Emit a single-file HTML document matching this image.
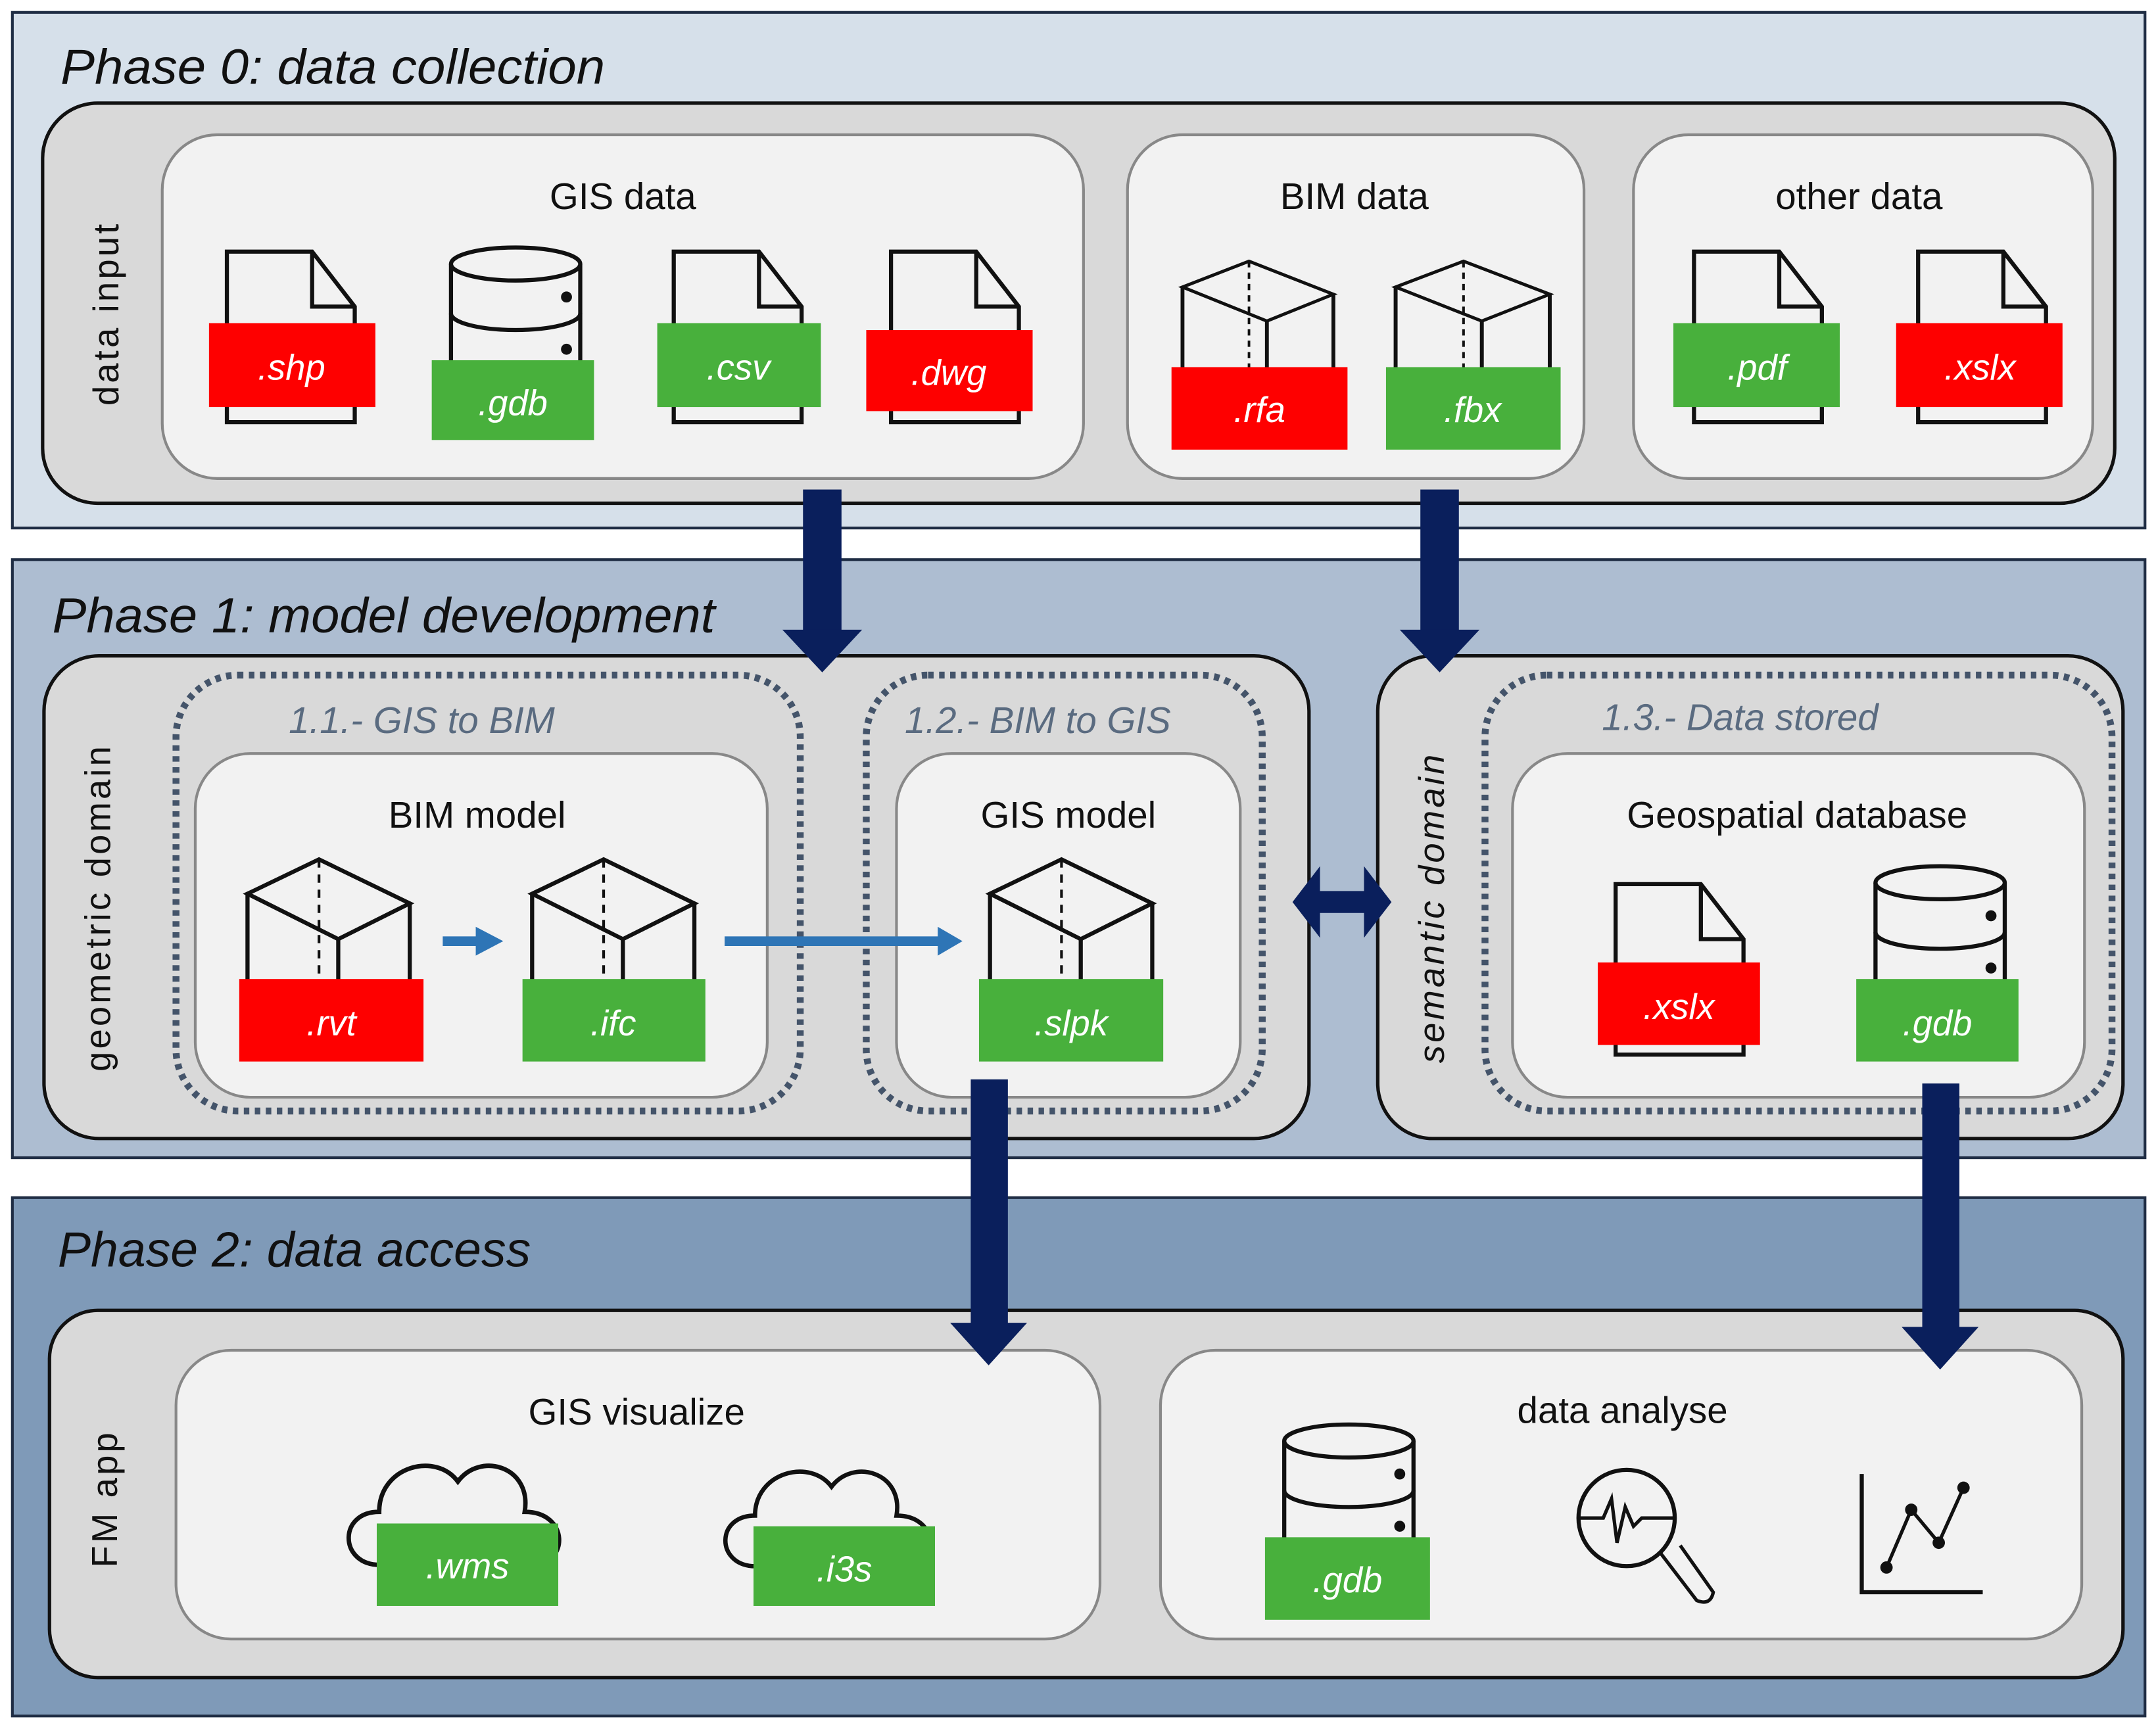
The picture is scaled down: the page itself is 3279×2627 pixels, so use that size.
<!DOCTYPE html>
<html><head><meta charset="utf-8"><style>
html,body{margin:0;padding:0;background:#fff}
svg{display:block}
text{font-family:"Liberation Sans",sans-serif}
.t{font-size:27px;fill:#111;text-anchor:middle}
.ph{font-size:36px;font-style:italic;fill:#111}
.lb{font-size:26px;font-style:italic;fill:#fff;text-anchor:middle}
.sub{font-size:27px;font-style:italic;fill:#5a6b80}
.rot{font-size:26px;fill:#111;text-anchor:middle;letter-spacing:2px}
</style></head><body>
<svg width="3279" height="2627" viewBox="0 0 1568 1256" preserveAspectRatio="none" xmlns="http://www.w3.org/2000/svg">
<defs>
<g id="doc" fill="#f2f2f2" stroke="#111" stroke-width="3">
<path d="M0,0 H62 L93,40 V124 H0 Z"/><path d="M62,0 V40 H93" fill="none"/>
</g>
<g id="cyl" fill="#f2f2f2" stroke="#111" stroke-width="3">
<path d="M0,12 V120 H94 V12"/>
<ellipse cx="47" cy="12" rx="47" ry="12"/>
<path d="M0,48 A47,12 0 0 0 94,48" fill="none"/>
<circle cx="84" cy="36" r="2.5" fill="#111"/><circle cx="84" cy="74" r="2.5" fill="#111"/>
</g>
<g id="cube" fill="none" stroke="#111" stroke-width="3">
<path d="M0,25 L52,0 L118,32 L66,58 Z"/>
<path d="M0,25 V135 M66,58 V135 M118,32 V135"/>
<path d="M52,0 V135" stroke-dasharray="6,5" stroke-width="2"/>
</g>
<g id="cloud" fill="#f2f2f2" stroke="#111" stroke-width="3">
<path d="M20,80 C-5,78 -5,45 22,45 C22,15 60,5 75,25 C90,5 125,15 120,45 C150,45 150,80 125,80 Z"/>
</g>
</defs>

<rect x="9" y="9" width="1551" height="375" fill="#d6e0ea" stroke="#1f2d44" stroke-width="2"/>
<rect x="9" y="407" width="1551" height="435" fill="#adbdd1" stroke="#1f2d44" stroke-width="2"/>
<rect x="9" y="871" width="1551" height="377" fill="#7f9ab8" stroke="#1f2d44" stroke-width="2"/>

<text class="ph" x="44" y="61" textLength="396" lengthAdjust="spacingAndGlyphs">Phase 0: data collection</text>
<text class="ph" x="38" y="460" textLength="482" lengthAdjust="spacingAndGlyphs">Phase 1: model development</text>
<text class="ph" x="42" y="921" textLength="344" lengthAdjust="spacingAndGlyphs">Phase 2: data access</text>

<rect x="31" y="75" width="1507" height="291" rx="40" fill="#d9d9d9" stroke="#111" stroke-width="2.5"/>
<text class="rot" transform="translate(86,228) rotate(-90)">data input</text>

<rect x="118" y="98" width="670" height="250" rx="40" fill="#f2f2f2" stroke="#888" stroke-width="2"/>
<text class="t" x="453" y="152">GIS data</text>
<use href="#doc" x="165" y="183"/>
<rect x="152" y="235" width="121" height="61" fill="#fe0000"/><text class="lb" x="212" y="276">.shp</text>
<use href="#cyl" x="328" y="180"/>
<rect x="314" y="262" width="118" height="58" fill="#48b03c"/><text class="lb" x="373" y="302">.gdb</text>
<use href="#doc" x="490" y="183"/>
<rect x="478" y="235" width="119" height="61" fill="#48b03c"/><text class="lb" x="537" y="276">.csv</text>
<use href="#doc" x="648" y="183"/>
<rect x="630" y="240" width="121" height="59" fill="#fe0000"/><text class="lb" x="690" y="280">.dwg</text>

<rect x="820" y="98" width="332" height="250" rx="40" fill="#f2f2f2" stroke="#888" stroke-width="2"/>
<text class="t" x="985" y="152">BIM data</text>
<g transform="translate(860,190) scale(0.93,0.75)"><use href="#cube"/></g>
<g transform="translate(1015,190) scale(0.95,0.75)"><use href="#cube"/></g>
<rect x="852" y="267" width="128" height="60" fill="#fe0000"/><text class="lb" x="916" y="307">.rfa</text>
<rect x="1008" y="267" width="127" height="60" fill="#48b03c"/><text class="lb" x="1071" y="307">.fbx</text>

<rect x="1188" y="98" width="334" height="250" rx="40" fill="#f2f2f2" stroke="#888" stroke-width="2"/>
<text class="t" x="1352" y="152">other data</text>
<use href="#doc" x="1232" y="183"/>
<rect x="1217" y="235" width="121" height="61" fill="#48b03c"/><text class="lb" x="1278" y="276">.pdf</text>
<use href="#doc" x="1395" y="183"/>
<rect x="1379" y="235" width="121" height="61" fill="#fe0000"/><text class="lb" x="1440" y="276">.xslx</text>

<rect x="32" y="477" width="920" height="351" rx="40" fill="#d9d9d9" stroke="#111" stroke-width="2.5"/>
<text class="rot" transform="translate(80,660) rotate(-90)">geometric domain</text>
<rect x="1002" y="477" width="542" height="351" rx="40" fill="#d9d9d9" stroke="#111" stroke-width="2.5"/>
<text class="rot" transform="translate(1050,660) rotate(-90)" font-style="italic">semantic domain</text>

<g fill="none" stroke="#44546a" stroke-width="5" stroke-dasharray="4,4">
<rect x="128" y="491" width="454" height="317" rx="45"/>
<rect x="630" y="491" width="288" height="317" rx="45"/>
<rect x="1080" y="491" width="456" height="317" rx="45"/>
</g>
<text class="sub" x="210" y="533">1.1.- GIS to BIM</text>
<text class="sub" x="658" y="533">1.2.- BIM to GIS</text>
<text class="sub" x="1165" y="531">1.3.- Data stored</text>

<rect x="142" y="548" width="416" height="250" rx="40" fill="#f2f2f2" stroke="#888" stroke-width="2"/>
<text class="t" x="347" y="602">BIM model</text>
<use href="#cube" x="180" y="625"/>
<rect x="174" y="712" width="134" height="60" fill="#fe0000"/><text class="lb" x="241" y="753">.rvt</text>
<use href="#cube" x="387" y="625"/>
<rect x="380" y="712" width="133" height="60" fill="#48b03c"/><text class="lb" x="446" y="753">.ifc</text>

<rect x="652" y="548" width="250" height="250" rx="40" fill="#f2f2f2" stroke="#888" stroke-width="2"/>
<text class="t" x="777" y="602">GIS model</text>
<use href="#cube" x="720" y="625"/>
<rect x="712" y="712" width="134" height="60" fill="#48b03c"/><text class="lb" x="779" y="753">.slpk</text>

<g fill="#2e75b6" stroke="none">
<rect x="322" y="681" width="28" height="7"/><polygon points="346,674 366,684.5 346,695"/>
<rect x="527" y="681" width="160" height="7"/><polygon points="682,674 700,684.5 682,695"/>
</g>

<rect x="1100" y="548" width="416" height="250" rx="40" fill="#f2f2f2" stroke="#888" stroke-width="2"/>
<text class="t" x="1307" y="602">Geospatial database</text>
<use href="#doc" x="1175" y="643"/>
<rect x="1162" y="700" width="118" height="60" fill="#fe0000"/><text class="lb" x="1221" y="741">.xslx</text>
<use href="#cyl" x="1364" y="630"/>
<rect x="1350" y="712" width="118" height="60" fill="#48b03c"/><text class="lb" x="1409" y="753">.gdb</text>

<rect x="36" y="953" width="1508" height="267" rx="35" fill="#d9d9d9" stroke="#111" stroke-width="2.5"/>
<text class="rot" transform="translate(85,1090) rotate(-90)">FM app</text>

<rect x="128" y="982" width="672" height="210" rx="40" fill="#f2f2f2" stroke="#888" stroke-width="2"/>
<text class="t" x="463" y="1036">GIS visualize</text>
<g transform="translate(252,1050) scale(1.08,1.1)"><use href="#cloud"/></g>
<g transform="translate(526,1055) scale(1.05,1.05)"><use href="#cloud"/></g>
<rect x="274" y="1108" width="132" height="60" fill="#48b03c"/><text class="lb" x="340" y="1148">.wms</text>
<rect x="548" y="1110" width="132" height="58" fill="#48b03c"/><text class="lb" x="614" y="1150">.i3s</text>

<rect x="844" y="982" width="670" height="210" rx="40" fill="#f2f2f2" stroke="#888" stroke-width="2"/>
<text class="t" x="1180" y="1035">data analyse</text>
<use href="#cyl" x="934" y="1036"/>
<rect x="920" y="1118" width="120" height="60" fill="#48b03c"/><text class="lb" x="980" y="1158">.gdb</text>
<g fill="none" stroke="#111" stroke-width="3">
<circle cx="1183" cy="1104" r="35"/>
<path d="M1148,1104 H1166 L1172,1090 L1176,1122 L1182,1096 L1188,1110 L1194,1104 H1218" stroke-width="2.5"/>
<path d="M1208,1130 L1234,1164 Q1244,1168 1246,1158 L1222,1124" stroke-width="2.5"/>
<path d="M1354,1072 V1158 H1442" stroke-width="3"/>
<path d="M1372,1140 L1390,1098 L1410,1122 L1428,1082" stroke-width="2.5"/>
</g>
<g fill="#111"><circle cx="1372" cy="1140" r="4.5"/><circle cx="1390" cy="1098" r="4.5"/><circle cx="1410" cy="1122" r="4.5"/><circle cx="1428" cy="1082" r="4.5"/></g>

<g fill="#0a1f5c">
<rect x="584" y="356" width="28" height="104"/><polygon points="569,458 627,458 598,489"/>
<rect x="1033" y="356" width="28" height="104"/><polygon points="1018,458 1076,458 1047,489"/>
<rect x="706" y="785" width="27" height="180"/><polygon points="691,962 747,962 719,993"/>
<rect x="1398" y="788" width="27" height="180"/><polygon points="1383,965 1439,965 1411,996"/>
<polygon points="940,656 960,630 960,648 992,648 992,630 1012,656 992,682 992,664 960,664 960,682"/>
</g>
</svg>
</body></html>
